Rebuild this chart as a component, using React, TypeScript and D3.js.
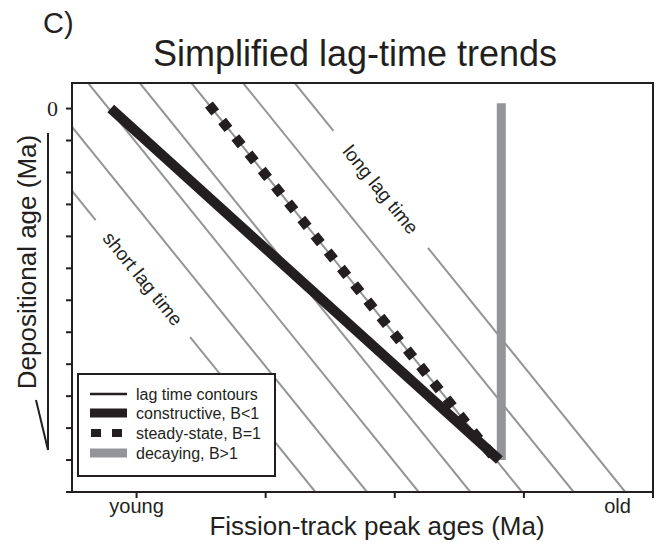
import React from "react";
import * as d3 from "d3";

// ---- data ----
const depTicks = [0, 1, 2, 3, 4, 5, 6, 7, 8, 9, 10, 11, 12];
const depTickLabels = ["0", "", "", "", "", "", "", "", "", "", "", "", ""];
const ftTicks = [1, 3, 5, 7, 9];
const ftEndLabels = ["young", "old"];
const ftEndLabelPos = [1, 8.45];

// lag-time contours: fission-track age where each contour meets the bottom (dep = 12)
const contourBottoms = [3.77, 4.57, 5.37, 6.17, 6.97, 7.77, 8.57];
const contourSlope = 2.5; // depositional-age units per fission-track unit
// labelled contours with a gap (depositional age range of gap)
const labelContour = [3.77, 8.57];
const labelText = ["short lag time", "long lag time"];
const labelGapFrom = [3.49, 0.7];
const labelGapTo = [7.15, 4.36];

// trends: [fission-track age, depositional age]
const constructive: [number, number][] = [
  [0.6, 0],
  [6.62, 11],
];
const steadyState: [number, number][] = [
  [2.17, 0],
  [6.57, 11],
];
const decaying: [number, number][] = [
  [6.65, -0.17],
  [6.65, 11],
];

const legendLabels = [
  "lag time contours",
  "constructive, B<1",
  "steady-state, B=1",
  "decaying, B>1",
];

const BLACK = "#231f20";
const GRAY = "#939598";
const SANS = "'Liberation Sans', Arial, Helvetica, sans-serif";

export default function App() {
  const W = 661;
  const H = 546;
  const x = d3.scaleLinear().domain([0, 9]).range([72, 653]);
  const y = d3.scaleLinear().domain([-0.8, 12]).range([83, 492]);
  const line = d3
    .line<[number, number]>()
    .x((d) => x(d[0]))
    .y((d) => y(d[1]));

  const [d0, d1] = y.domain();
  const ftAt = (b: number, dep: number) => b - (12 - dep) / contourSlope;

  // angle of contour in pixels
  const ang =
    (Math.atan2(y(12) - y(0), x(ftAt(5, 12)) - x(ftAt(5, 0))) * 180) / Math.PI;

  const contourSegments: [number, number][][] = [];
  contourBottoms.forEach((b) => {
    const li = labelContour.indexOf(b);
    if (li >= 0) {
      const g0 = labelGapFrom[li];
      const g1 = labelGapTo[li];
      contourSegments.push([
        [ftAt(b, d0), d0],
        [ftAt(b, g0), g0],
      ]);
      contourSegments.push([
        [ftAt(b, g1), g1],
        [ftAt(b, d1), d1],
      ]);
    } else {
      contourSegments.push([
        [ftAt(b, d0), d0],
        [ftAt(b, d1), d1],
      ]);
    }
  });

  // steady-state: extend start by half a dash so first square is centred on the start point
  const s0 = [x(steadyState[0][0]), y(steadyState[0][1])];
  const s1 = [x(steadyState[1][0]), y(steadyState[1][1])];
  const len = Math.hypot(s1[0] - s0[0], s1[1] - s0[1]);
  const ux = (s1[0] - s0[0]) / len;
  const uy = (s1[1] - s0[1]) / len;
  const steadyPath = `M${s0[0] - 5 * ux},${s0[1] - 5 * uy}L${s1[0]},${s1[1]}`;

  const left = x.range()[0];
  const right = x.range()[1];
  const top = y.range()[0];
  const bottom = y.range()[1];

  // legend
  const lgX = 78;
  const lgY = 374;
  const lgW = 197;
  const lgH = 102;
  const rowY = [394, 413, 433, 453];

  return (
    <svg
      width={W}
      height={H}
      style={{ position: "absolute", left: 0, top: 0, background: "#fff" }}
    >
      <defs>
        <clipPath id="plotClip">
          <rect x={left} y={top} width={right - left} height={bottom - top} />
        </clipPath>
      </defs>

      <text x={43} y={33} fontFamily={SANS} fontSize={29} fill={BLACK}>
        C)
      </text>
      <text
        x={355}
        y={66}
        fontFamily={SANS}
        fontSize={36}
        textAnchor="middle"
        fill={BLACK}
      >
        Simplified lag-time trends
      </text>

      {/* contours */}
      <g clipPath="url(#plotClip)">
        {contourSegments.map((seg, i) => (
          <path
            key={i}
            d={line(seg) || ""}
            stroke={GRAY}
            strokeWidth={2}
            fill="none"
          />
        ))}
      </g>

      {/* contour labels */}
      {labelContour.map((b, i) => {
        const mid = (labelGapFrom[i] + labelGapTo[i]) / 2;
        const px = x(ftAt(b, mid));
        const py = y(mid);
        return (
          <text
            key={i}
            transform={`translate(${px},${py}) rotate(${ang})`}
            textAnchor="middle"
            dy="0.35em"
            fontFamily={SANS}
            fontSize={19}
            fill={BLACK}
          >
            {labelText[i]}
          </text>
        );
      })}

      {/* trends */}
      <path
        d={line(decaying) || ""}
        stroke={GRAY}
        strokeWidth={9}
        fill="none"
      />
      <path
        d={line(constructive) || ""}
        stroke={BLACK}
        strokeWidth={10}
        fill="none"
      />
      <path
        d={steadyPath}
        stroke={BLACK}
        strokeWidth={10}
        strokeDasharray="10 11"
        fill="none"
      />

      {/* legend */}
      <rect
        x={lgX}
        y={lgY}
        width={lgW}
        height={lgH}
        fill="#fff"
        stroke={BLACK}
        strokeWidth={2}
      />
      <line x1={90} x2={127} y1={rowY[0]} y2={rowY[0]} stroke={BLACK} strokeWidth={2.5} />
      <line x1={90} x2={127} y1={rowY[1]} y2={rowY[1]} stroke={BLACK} strokeWidth={9} />
      <line
        x1={91}
        x2={127}
        y1={rowY[2]}
        y2={rowY[2]}
        stroke={BLACK}
        strokeWidth={8}
        strokeDasharray="10 11"
      />
      <line x1={90} x2={127} y1={rowY[3]} y2={rowY[3]} stroke={GRAY} strokeWidth={9} />
      {legendLabels.map((t, i) => (
        <text
          key={i}
          x={136}
          y={rowY[i] + 5.5}
          fontFamily={SANS}
          fontSize={16}
          fill={BLACK}
        >
          {t}
        </text>
      ))}

      {/* frame */}
      <rect
        x={left}
        y={top}
        width={right - left}
        height={bottom - top}
        fill="none"
        stroke={BLACK}
        strokeWidth={2}
      />

      {/* y ticks */}
      {depTicks.map((t, i) => (
        <g key={i}>
          <line x1={left - 6} x2={left} y1={y(t)} y2={y(t)} stroke={BLACK} strokeWidth={2} />
          {depTickLabels[i] && (
            <text
              x={left - 14}
              y={y(t)}
              dy="0.35em"
              textAnchor="end"
              fontFamily="'Liberation Serif', 'Times New Roman', serif"
              fontSize={22}
              fill={BLACK}
            >
              {depTickLabels[i]}
            </text>
          )}
        </g>
      ))}

      {/* x ticks */}
      {ftTicks.map((t, i) => (
        <line key={i} x1={x(t)} x2={x(t)} y1={bottom} y2={bottom + 6} stroke={BLACK} strokeWidth={2} />
      ))}
      {ftEndLabels.map((t, i) => (
        <text
          key={i}
          x={x(ftEndLabelPos[i])}
          y={513}
          textAnchor="middle"
          fontFamily={SANS}
          fontSize={20}
          fill={BLACK}
        >
          {t}
        </text>
      ))}

      {/* axis titles */}
      <text
        x={377}
        y={535}
        textAnchor="middle"
        fontFamily={SANS}
        fontSize={26}
        fill={BLACK}
      >
        Fission-track peak ages (Ma)
      </text>
      <text
        transform="translate(36,262) rotate(-90)"
        textAnchor="middle"
        fontFamily={SANS}
        fontSize={26}
        fill={BLACK}
      >
        Depositional age (Ma)
      </text>
      {/* age arrow wedge */}
      <line x1={48} x2={48} y1={133} y2={450} stroke={BLACK} strokeWidth={2} />
      <line x1={36} x2={48} y1={400} y2={450} stroke={BLACK} strokeWidth={2} />
    </svg>
  );
}
